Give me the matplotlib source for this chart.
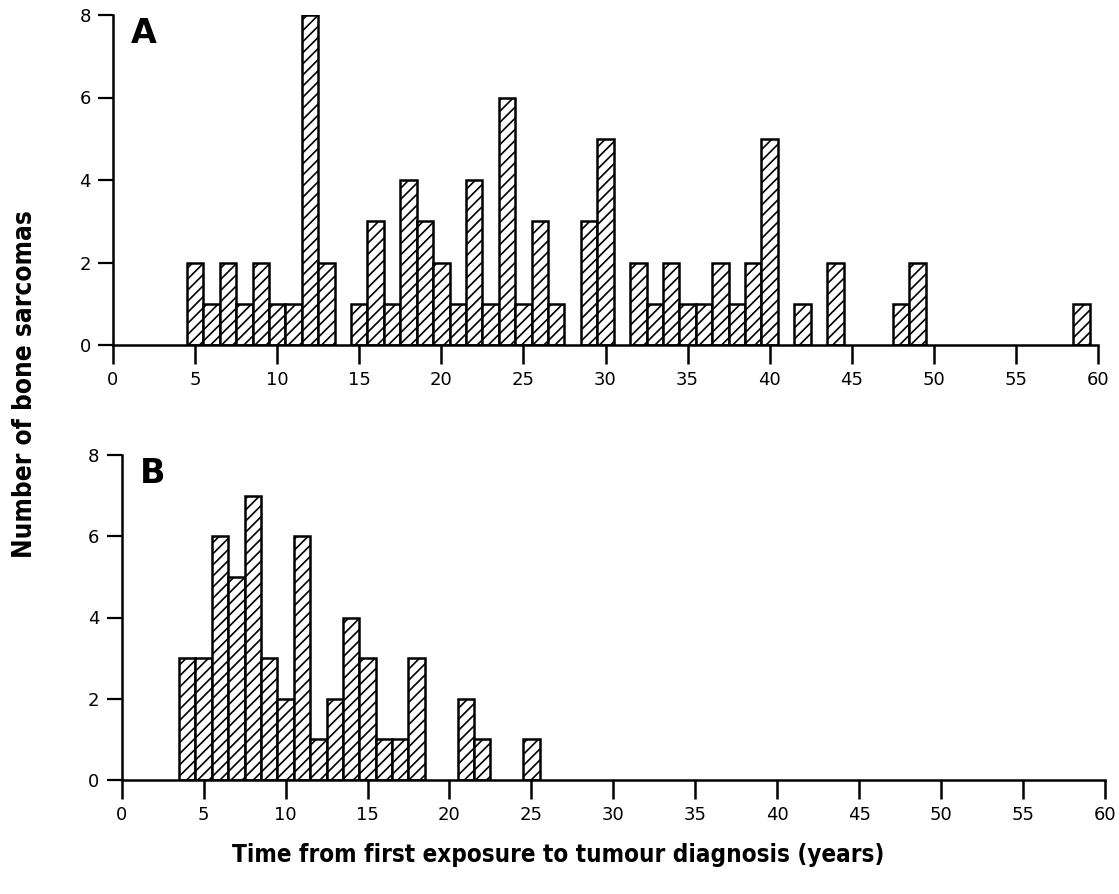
import matplotlib
matplotlib.use("Agg")
import matplotlib.pyplot as plt
import numpy as np

# panel A: years since first exposure and counts
years_a = [5, 6, 7, 8, 9, 10, 11, 12, 13, 15, 16, 17, 18, 19, 20, 21, 22, 23,
           24, 25, 26, 27, 29, 30, 32, 33, 34, 35, 36, 37, 38, 39, 40, 42, 44,
           48, 49, 59]
counts_a = [2, 1, 2, 1, 2, 1, 1, 8, 2, 1, 3, 1, 4, 3, 2, 1, 4, 1,
            6, 1, 3, 1, 3, 5, 2, 1, 2, 1, 1, 2, 1, 2, 5, 1, 2,
            1, 2, 1]

# panel B
years_b = [4, 5, 6, 7, 8, 9, 10, 11, 12, 13, 14, 15, 16, 17, 18, 21, 22, 25]
counts_b = [3, 3, 6, 5, 7, 3, 2, 6, 1, 2, 4, 3, 1, 1, 3, 2, 1, 1]

xticks = list(range(0, 61, 5))
yticks = [0, 2, 4, 6, 8]

plt.rcParams["hatch.linewidth"] = 1.2
plt.rcParams["hatch.color"] = "black"

fig = plt.figure(figsize=(11.19, 8.94), dpi=100)
ax_a = fig.add_axes([113 / 1119, 1 - 345 / 894, (1098 - 113) / 1119, 330 / 894])
ax_b = fig.add_axes([121.7 / 1119, 1 - 780 / 894, (1105 - 121.7) / 1119, 325 / 894])

for ax, years, counts, letter in [(ax_a, years_a, counts_a, "A"),
                                  (ax_b, years_b, counts_b, "B")]:
    ax.bar(years, counts, width=1.0, align="center", color="white",
           edgecolor="black", linewidth=1.8, hatch="///")
    ax.set_xlim(0, 60)
    ax.set_ylim(0, 8)
    ax.set_xticks(xticks)
    ax.set_yticks(yticks)
    for side in ["top", "right"]:
        ax.spines[side].set_visible(False)
    for side in ["left", "bottom"]:
        ax.spines[side].set_linewidth(1.8)
        ax.spines[side].set_clip_on(False)
    ax.tick_params("x", direction="out", length=14, width=1.8, labelsize=13, pad=5)
    ax.tick_params("y", direction="out", length=11, width=1.6, labelsize=13, pad=5)
    ax.text(0.018, 0.995, letter, transform=ax.transAxes, fontsize=24,
            fontweight="bold", va="top", ha="left")

fig.text(0.022, 0.570, "Number of bone sarcomas", rotation=90, ha="center",
         va="center", fontsize=18.8, fontweight="bold", fontstretch="condensed")
fig.text(0.499, 0.044, "Time from first exposure to tumour diagnosis (years)",
         ha="center", va="center", fontsize=17.4, fontweight="bold",
         fontstretch="condensed")

fig.savefig("out.png", dpi=100)
